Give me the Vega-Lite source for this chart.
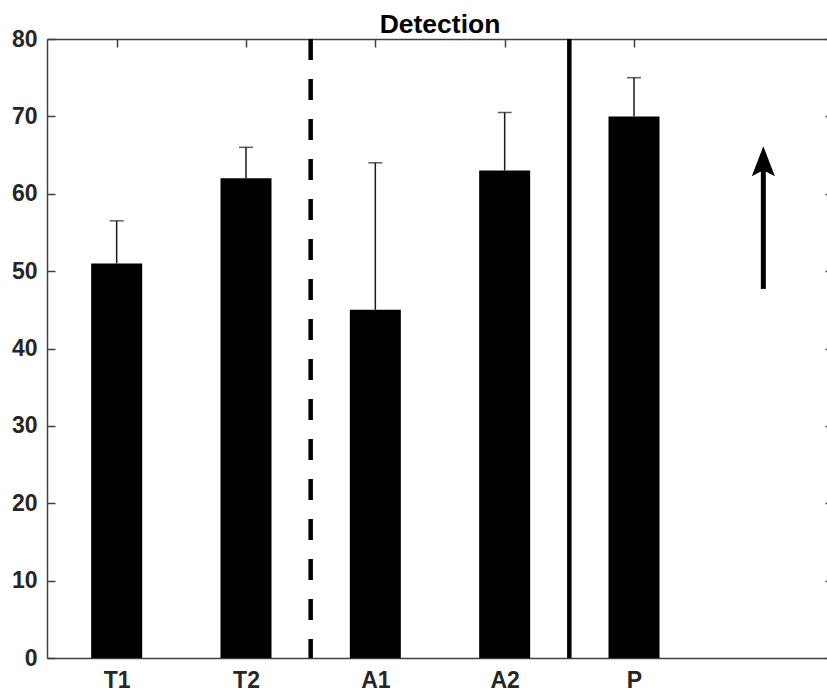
{
  "$schema": "https://vega.github.io/schema/vega-lite/v6.json",
  "width": 786,
  "height": 619,
  "autosize": "none",
  "padding": {"left": 47, "top": 39, "right": -6, "bottom": 40},
  "background": "white",
  "title": {"text": "Detection", "fontSize": 26.5, "font": "Liberation Sans", "fontWeight": "bold", "color": "#000000", "offset": 7, "dy": 17},
  "config": {
    "view": {"stroke": null},
    "axis": {"grid": false, "labelFont": "Liberation Sans", "labelFontWeight": "bold", "labelFontSize": 23, "labelColor": "#262626", "domainColor": "#404040", "domainWidth": 1.5, "tickColor": "#404040", "tickWidth": 1.5, "tickSize": -8, "title": null}
  },
  "datasets": {
    "bars": [
      {"cond": "T1", "pos": 1, "mean": 51, "upper": 56.5},
      {"cond": "T2", "pos": 2, "mean": 62, "upper": 66},
      {"cond": "A1", "pos": 3, "mean": 45, "upper": 64},
      {"cond": "A2", "pos": 4, "mean": 63, "upper": 70.5},
      {"cond": "P", "pos": 5, "mean": 70, "upper": 75}
    ],
    "separators": [
      {"pos": 2.5, "style": "dashed"},
      {"pos": 4.5, "style": "solid"}
    ],
    "arrow": [
      {"pos": 6, "start": 47.7, "end": 63.5, "head": 64.2}
    ]
  },
  "layer": [
    {
      "data": {"name": "bars"},
      "mark": {"type": "bar", "color": "#000000", "width": 51},
      "encoding": {
        "x": {"field": "pos", "type": "quantitative", "scale": {"domain": [0.5, 6.5], "nice": false, "zero": false},
          "axis": {"orient": "bottom", "values": [1, 2, 3, 4, 5], "labelExpr": "['','T1','T2','A1','A2','P'][datum.value]", "labelPadding": 19, "labelFontSize": 23}},
        "y": {"field": "mean", "type": "quantitative", "scale": {"domain": [0, 80], "nice": false},
          "axis": {"orient": "left", "values": [0, 10, 20, 30, 40, 50, 60, 70, 80], "labelPadding": 18}}
      }
    },
    {
      "data": {"name": "bars"},
      "mark": {"type": "rule", "color": "#1a1a1a", "strokeWidth": 1.5},
      "encoding": {
        "x": {"field": "pos", "type": "quantitative", "axis": null},
        "y": {"field": "mean", "type": "quantitative", "axis": null},
        "y2": {"field": "upper"}
      }
    },
    {
      "data": {"name": "bars"},
      "mark": {"type": "tick", "orient": "horizontal", "color": "#1a1a1a", "size": 14, "thickness": 1.5},
      "encoding": {
        "x": {"field": "pos", "type": "quantitative", "axis": null},
        "y": {"field": "upper", "type": "quantitative", "axis": null}
      }
    },
    {
      "data": {"name": "separators"},
      "transform": [{"filter": "datum.style === 'dashed'"}],
      "mark": {"type": "rule", "color": "#000000", "strokeWidth": 4.5, "strokeDash": [21, 19]},
      "encoding": {
        "x": {"field": "pos", "type": "quantitative", "axis": null},
        "y": {"datum": 80, "axis": null},
        "y2": {"datum": 0}
      }
    },
    {
      "data": {"name": "separators"},
      "transform": [{"filter": "datum.style === 'solid'"}],
      "mark": {"type": "rule", "color": "#000000", "strokeWidth": 4.5},
      "encoding": {
        "x": {"field": "pos", "type": "quantitative", "axis": null},
        "y": {"datum": 80, "axis": null},
        "y2": {"datum": 0}
      }
    },
    {
      "data": {"name": "arrow"},
      "mark": {"type": "rule", "color": "#000000", "strokeWidth": 5},
      "encoding": {
        "x": {"field": "pos", "type": "quantitative", "axis": null},
        "y": {"field": "start", "type": "quantitative", "axis": null},
        "y2": {"field": "end"}
      }
    },
    {
      "data": {"name": "arrow"},
      "mark": {"type": "point", "filled": true, "color": "#000000", "opacity": 1, "size": 900, "shape": "M0,-1L0.77,1L0,0.6L-0.77,1Z", "strokeWidth": 0},
      "encoding": {
        "x": {"field": "pos", "type": "quantitative", "axis": null},
        "y": {"field": "head", "type": "quantitative", "axis": null}
      }
    },
    {
      "data": {"values": [{}]},
      "mark": {"type": "point", "opacity": 0},
      "encoding": {
        "x": {"datum": 1, "type": "quantitative", "axis": {"orient": "top", "values": [1, 2, 3, 4, 5], "labels": false}},
        "y": {"datum": 0, "type": "quantitative", "axis": {"orient": "right", "values": [0, 10, 20, 30, 40, 50, 60, 70, 80], "labels": false}}
      }
    }
  ],
  "resolve": {"axis": {"x": "independent", "y": "independent"}}
}
